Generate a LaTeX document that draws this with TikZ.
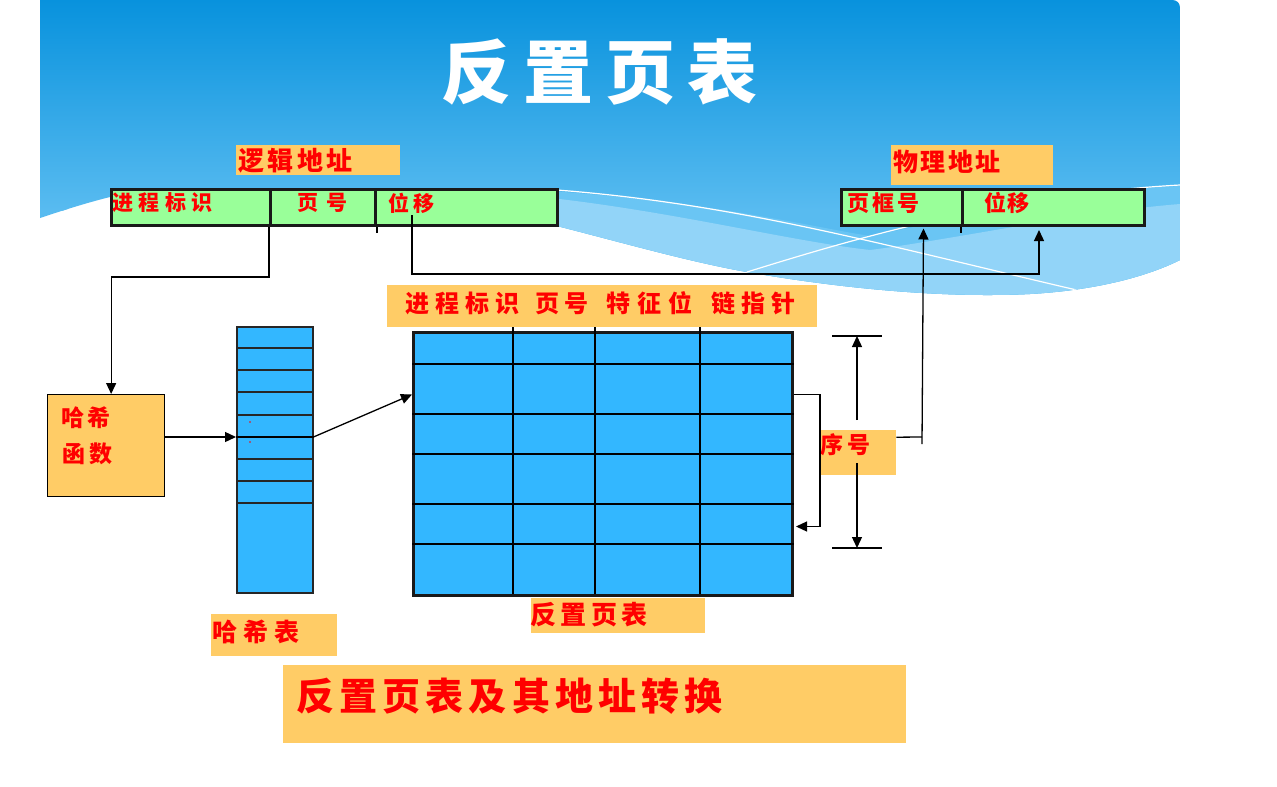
\documentclass[tikz,border=0pt]{standalone}
\usepackage{fontspec}
\usetikzlibrary{arrows.meta}
\newfontfamily\cjk{Noto Sans CJK SC}

\makeatletter
% set each character in a box of fixed pitch
\newcommand\pitchtext[2]{\@tfor\pt@ch:=#2\do{\makebox[#1][l]{\pt@ch}}}
\makeatother

\definecolor{lblorange}{RGB}{255,204,102}
\definecolor{cellgreen}{RGB}{153,255,153}
\definecolor{tblue}{RGB}{51,183,255}
\definecolor{skytop}{RGB}{8,146,221}
\definecolor{skybot}{RGB}{88,187,240}
\definecolor{skymid}{RGB}{106,197,244}
\definecolor{skylight}{RGB}{146,212,248}
\definecolor{inkred}{RGB}{255,0,0}

\tikzset{
  conn/.style={line width=1.3pt, black},
  arr/.style={conn, -{Triangle[length=11pt,width=10pt]}},
  lbox/.style={fill=lblorange, draw=none, inner sep=0, anchor=north west},
  gcell/.style={fill=cellgreen, draw=black!90, line width=3pt, inner sep=0,
                minimum height=36pt, anchor=north west},
  redtxt/.style={text=inkred, anchor=west, inner sep=0},
  cjkfont/.style={font={\cjk\bfseries\fontsize{#1}{#1}\selectfont}},
  gridline/.style={line width=1.6pt, black},
  hline/.style={line width=1.4pt, black!85},
}

\begin{document}
\begin{tikzpicture}[x=1pt,y=-1pt]
\useasboundingbox (0,0) rectangle (1277,787);
\fill[white] (0,0) rectangle (1277,787);

% ---- sky backdrop with waves ----
\begin{scope}
  \clip (40,0) -- (1172,0) .. controls (1177,0) and (1180,3) .. (1180,8)
        -- (1180,260)
        .. controls (1150,275) and (1100,290) .. (1030,294)
        .. controls (950,298) and (850,290) .. (747,272)
        .. controls (690,262) and (620,242) .. (557,226)
        .. controls (400,195) and (200,180) .. (110,197)
        .. controls (90,202) and (70,208) .. (40,218) -- cycle;
  \shade[top color=skytop, bottom color=skybot] (40,0) rectangle (1180,210);
  \fill[skybot] (40,209) rectangle (1180,310);
  \fill[skymid] (500,188) .. controls (700,198) and (800,225) .. (870,236)
        .. controls (950,220) and (1080,190) .. (1180,186)
        -- (1180,310) -- (500,310) -- cycle;
  \fill[skylight] (500,193) .. controls (650,205) and (780,240) .. (870,250)
        .. controls (950,240) and (1080,212) .. (1180,204)
        -- (1180,310) -- (500,310) -- cycle;
  \draw[white, line width=1.2pt] (557,190) .. controls (750,205) and (900,250) .. (1120,300);
  \draw[white, line width=1.2pt] (747,272) .. controls (850,240) and (1000,195) .. (1180,185);
\end{scope}

% ---- title ----
\node[text=white, anchor=west, inner sep=0, font={\cjk\bfseries\fontsize{70}{70}\selectfont}]
  (title) at (441,72) {\pitchtext{82pt}{反置页表}};

% ---- logical address ----
\node[lbox, minimum width=164pt, minimum height=30pt] (blogic) at (236,145) {};
\node[redtxt, cjkfont=26] (tlogic) at (238,161) {\pitchtext{29.5pt}{逻辑地址}};

\node[gcell, minimum width=159pt] (lpid)  at (110,188) {};
\node[gcell, minimum width=105pt] (lpage) at (269,188) {};
\node[gcell, minimum width=182pt] (loff)  at (374,188) {};
\draw[line width=2pt] (lpage.south west) -- ++(0,6);
\draw[line width=2pt] (lpage.south east) -- ++(0,6);
\node[redtxt, cjkfont=21] (tlpid)  at (112,203) {\pitchtext{26.5pt}{进程标识}};
\node[redtxt, cjkfont=21] (tlpage) at (297,203) {\pitchtext{29pt}{页号}};
\node[redtxt, cjkfont=21] (tloff)  at (388,203) {\pitchtext{25pt}{位移}};
\coordinate (offsrc) at (412,215);

% ---- physical address ----
\node[lbox, minimum width=162pt, minimum height=40pt] (bphys) at (891,145) {};
\node[redtxt, cjkfont=25] (tphys) at (893,162) {\pitchtext{27.5pt}{物理地址}};

\node[gcell, minimum width=121pt] (ppage) at (840,188) {};
\node[gcell, minimum width=182pt] (poff)  at (961,188) {};
\draw[line width=2pt] (poff.south west) -- ++(0,6);
\node[redtxt, cjkfont=22] (tppage) at (847,203) {\pitchtext{25pt}{页框号}};
\node[redtxt, cjkfont=22] (tpoff)  at (984,203) {\pitchtext{23.5pt}{位移}};
\coordinate (poffin) at (1039,230);

% ---- hash function ----
\node[fill=lblorange, draw=black, line width=1.3pt, inner sep=0, anchor=north west,
      minimum width=117pt, minimum height=102pt] (hashfn) at (47,394) {};
\node[redtxt, cjkfont=23] (thash1) at (61,418)   {\pitchtext{26.7pt}{哈希}};
\node[redtxt, cjkfont=23] (thash2) at (62,453.5) {\pitchtext{27.3pt}{函数}};

% ---- hash table ----
\node[fill=tblue, draw=black!85, line width=1.5pt, inner sep=0, anchor=north west,
      minimum width=76pt, minimum height=266pt] (htab) at (236,326) {};
\foreach \yy in {348,370,392,415,459,481,503}
  \draw[hline] (htab.west |- 0,\yy) -- (htab.east |- 0,\yy);
\coordinate (htrow) at (0,437);
\draw[line width=2.2pt] (htab.west |- htrow) -- (htab.east |- htrow);
\fill[inkred] (250,422) circle (0.8);
\fill[inkred] (250,442) circle (0.8);
\node[lbox, minimum width=126pt, minimum height=42pt] (bhtab) at (211,614) {};
\node[redtxt, cjkfont=25] (thtab) at (212,632) {\pitchtext{31pt}{哈希表}};

% ---- inverted page table ----
\node[lbox, minimum width=430pt, minimum height=42pt] (bhdr) at (387,285) {};
\node[redtxt, cjkfont=24] (thdr) at (405,303)
  {\pitchtext{30pt}{进程标识}\hspace{10pt}\pitchtext{29pt}{页号}\hspace{13pt}\pitchtext{31pt}{特征位}\hspace{12pt}\pitchtext{30pt}{链指针}};

\node[fill=tblue, draw=black!90, line width=3pt, inner sep=0, anchor=north west,
      minimum width=379pt, minimum height=263pt] (ipt) at (412,331) {};
\foreach \xx in {513,595,700}
  \draw[gridline] (\xx,327) -- (\xx,594);
\foreach \yy in {364,414,454,504,544}
  \draw[gridline] (ipt.west |- 0,\yy) -- (ipt.east |- 0,\yy);
\node[lbox, minimum width=174pt, minimum height=35pt] (bipt) at (531,598) {};
\node[redtxt, cjkfont=26] (tipt) at (530,615) {\pitchtext{30.5pt}{反置页表}};

% ---- sequence number ----
\node[lbox, minimum width=76pt, minimum height=45pt] (bseq) at (820,430) {};
\node[redtxt, cjkfont=23] (tseq) at (820,445) {\pitchtext{27.6pt}{序号}};
\coordinate (dimtop) at (857,336);
\coordinate (dimbot) at (857,548);
\draw[line width=2.6pt] ([xshift=-25pt]dimtop) -- ([xshift=25pt]dimtop);
\draw[line width=2.6pt] ([xshift=-25pt]dimbot) -- ([xshift=25pt]dimbot);
\coordinate (dimup) at (857,420);
\coordinate (dimdn) at (857,463);
\draw[arr] (dimup) -- (dimtop);
\draw[arr] (dimdn) -- (dimbot);

% ---- caption ----
\node[lbox, minimum width=623pt, minimum height=78pt] (bcap) at (283,665) {};
\node[redtxt, cjkfont=38] (tcap) at (296,696) {\pitchtext{43.2pt}{反置页表及其地址转换}};

% ---- connectors ----
\draw[arr] (lpage.south west) -- ++(0,50) -| ([xshift=5pt]hashfn.north);
\draw[arr] (offsrc) -- ++(0,59) -| (poffin);
\draw[arr] (hashfn.east |- htrow) -- (htab.west |- htrow);
\draw[arr] (htab.east |- htrow) -- ([yshift=69.5pt]ipt.west);
\draw[arr] ([yshift=69.5pt]ipt.east) -- ++(26,0) |- ([yshift=-62.5pt,xshift=2pt]ipt.east);
\coordinate (seqstub) at (922,444);
\draw[conn] ([yshift=15.5pt]bseq.east) -- (seqstub |- 0,437);
\draw[arr, shorten >=1.5pt] (seqstub) -- ([xshift=21.5pt]ppage.south);
\end{tikzpicture}
\end{document}
